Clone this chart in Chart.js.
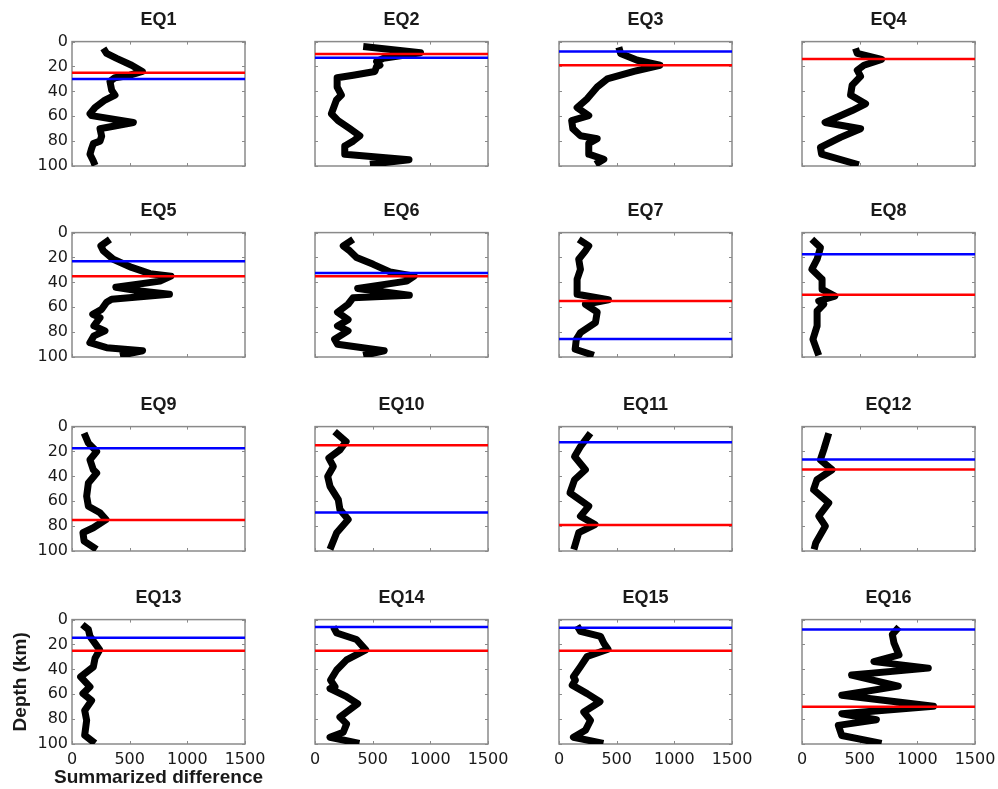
<!DOCTYPE html>
<html>
<head>
<meta charset="utf-8">
<script src="https://cdn.jsdelivr.net/npm/chart.js@4.4.0/dist/chart.umd.min.js"></script>
<style>
html, body { margin:0; padding:0; background:#fff; }
body { width:998px; height:789px; position:relative; overflow:hidden; }
canvas { position:absolute; }
</style>
</head>
<body>
<script>
// panel titles and the two marker depths (red / blue) per panel
const titles = ['EQ1','EQ2','EQ3','EQ4','EQ5','EQ6','EQ7','EQ8','EQ9','EQ10','EQ11','EQ12','EQ13','EQ14','EQ15','EQ16'];
const redDepth  = [25, 10, 19, 14, 35, 35, 55, 50, 75, 15, 79, 34.5, 25, 25, 25, 70];
const blueDepth = [30, 13, 8, null, 23, 32.5, 85.5, 17.5, 17.5, 69, 12.5, 26.5, 14.5, 6, 6.5, 8];

const xTicks = [0, 500, 1000, 1500];
const yTicks = [0, 20, 40, 60, 80, 100];
const xTitle = 'Summarized difference';
const yTitle = 'Depth (km)';

// depth (km) and summarized difference for each earthquake
const eq1Depth = [5.4, 9.5, 13.5, 19, 24, 27, 29, 32, 39, 43, 47, 53, 58, 59.5, 65, 69, 70, 76, 80, 82, 86, 90.5, 96, 99.5];
const eq1Diff  = [272, 300, 387, 517, 610, 503, 373, 329, 344, 373, 286, 200, 156, 170, 532, 300, 243, 257, 243, 185, 170, 156, 185, 200];
const eq2Depth = [4, 9, 13.5, 16, 19, 20, 24, 27, 29, 36.5, 43, 47, 58, 63.5, 70, 75.7, 80, 84, 90.5, 95, 98.6];
const eq2Diff  = [418, 915, 592, 534, 563, 534, 519, 331, 192, 192, 229, 186, 142, 200, 302, 389, 331, 258, 258, 815, 476];
const eq3Depth = [4.6, 9.5, 15, 19, 24, 30, 36.5, 46, 53, 59.5, 63.5, 70, 75.7, 78, 82, 90.5, 94.6, 98.6];
const eq3Diff  = [519, 534, 679, 875, 650, 418, 331, 244, 157, 258, 110, 120, 186, 331, 258, 258, 389, 316];
const eq4Depth = [5.4, 9.5, 14.3, 19, 23, 28, 35, 43, 50, 55.4, 65, 70, 77, 85, 90.5, 99];
const eq4Diff  = [464, 479, 690, 537, 479, 508, 435, 421, 551, 435, 200, 508, 334, 160, 170, 493];
const eq5Depth = [5.4, 10.7, 14.7, 21.4, 28, 33, 35, 39, 44, 47, 49.6, 53.6, 56, 61.7, 65.7, 68.4, 75, 79, 83, 88.5, 92.5, 95, 98.7];
const eq5Diff  = [329, 250, 272, 358, 517, 676, 858, 763, 380, 590, 845, 344, 300, 257, 180, 243, 190, 286, 190, 155, 300, 612, 416];
const eq6Depth = [5.4, 10.7, 14.7, 20, 25.5, 31.6, 35, 39, 45, 50.4, 52.3, 57.6, 64, 70, 75, 79, 85.8, 89.8, 95, 98.7];
const eq6Diff  = [331, 245, 302, 360, 505, 650, 860, 795, 370, 818, 331, 287, 195, 287, 195, 287, 170, 195, 600, 418];
const eq7Depth = [5.4, 10.7, 14.7, 21.4, 29.5, 37.5, 49.6, 54, 57.6, 64, 72.4, 80.4, 85.8, 93.8, 98.7];
const eq7Diff  = [171, 258, 229, 171, 186, 157, 157, 428, 229, 331, 316, 186, 150, 140, 302];
const eq8Depth = [5.4, 12, 21.4, 29.5, 37.5, 45.6, 51, 55, 57.6, 63, 75, 85.8, 98.7];
const eq8Diff  = [85, 160, 131, 85, 174, 174, 285, 145, 188, 131, 131, 95, 145];
const eq9Depth = [5.3, 13.3, 20, 26.7, 34.7, 37.3, 45.3, 56, 64, 69.3, 74.7, 81.3, 85.3, 92, 98.7];
const eq9Diff  = [105, 142, 214, 156, 185, 214, 142, 127, 142, 243, 295, 185, 95, 105, 214];
const eq10Depth = [4, 12, 18.7, 25.3, 32, 40, 48, 58.7, 66.7, 74.7, 85.3, 98.7];
const eq10Diff  = [170, 270, 216, 120, 159, 110, 130, 202, 216, 288, 188, 130];
const eq11Depth = [5.3, 16, 24, 34.7, 42.7, 53.3, 64, 72, 78.7, 85.3, 98.7];
const eq11Diff  = [273, 186, 135, 229, 135, 95, 258, 186, 312, 171, 128];
const eq12Depth = [5.3, 18.7, 26.7, 34.7, 42.7, 50.7, 61.3, 72, 80, 93.3, 98.7];
const eq12Diff  = [232, 188, 159, 261, 130, 100, 232, 145, 203, 120, 105];
const eq13Depth = [4, 8, 13.5, 24.3, 31, 38, 46, 54, 59.5, 65, 73, 81, 93, 99.5];
const eq13Diff  = [90, 142, 156, 240, 200, 185, 75, 156, 95, 170, 110, 127, 110, 200];
const eq14Depth = [5.9, 10.8, 16, 24.3, 32.4, 40.5, 48.6, 54, 55.4, 62, 67.6, 74.3, 78.4, 83.8, 90.5, 94.6, 99.5];
const eq14Diff  = [159, 188, 360, 440, 274, 188, 135, 173, 130, 274, 370, 274, 216, 274, 245, 130, 385];
const eq15Depth = [4.9, 9.5, 13.5, 19, 23.8, 29.7, 37.8, 46, 48.6, 52.7, 59.5, 66, 74.3, 81, 89, 94.6, 99.5];
const eq15Diff  = [157, 186, 360, 389, 425, 244, 186, 125, 142, 115, 244, 355, 215, 273, 229, 125, 385];
const eq16Depth = [5.9, 12, 19, 28.4, 33.8, 39, 44.6, 53.5, 60.8, 69.7, 75.7, 80.5, 85, 93.2, 99.5];
const eq16Diff  = [841, 783, 798, 841, 624, 1095, 430, 835, 345, 1140, 345, 645, 315, 345, 690];

const depths = [eq1Depth, eq2Depth, eq3Depth, eq4Depth, eq5Depth, eq6Depth, eq7Depth, eq8Depth,
                eq9Depth, eq10Depth, eq11Depth, eq12Depth, eq13Depth, eq14Depth, eq15Depth, eq16Depth];
const diffs = [eq1Diff, eq2Diff, eq3Diff, eq4Diff, eq5Diff, eq6Diff, eq7Diff, eq8Diff,
               eq9Diff, eq10Diff, eq11Diff, eq12Diff, eq13Diff, eq14Diff, eq15Diff, eq16Diff];

// where each plot box sits on the page
const colLeft = [72, 315, 559, 802];
const rowTop = [42, 233, 427, 620];
const boxW = 173, boxH = 124;
const titleH = 40.6; // 18 * 1.2 + 8 + 11

const TICKFONT = "'DejaVu Sans', Verdana, sans-serif";
const BOLDFONT = "'Liberation Sans', Arial, Helvetica, sans-serif";
const TEXT = '#1a1a1a';

// gray frame plus inward tick marks on all four sides
const frame = {
  id: 'frame',
  beforeDatasetsDraw(chart) {
    const {ctx, chartArea: a, scales: {x, y}} = chart;
    ctx.save();
    ctx.strokeStyle = '#8a8a8a';
    ctx.lineWidth = 1;
    ctx.beginPath();
    xTicks.forEach(v => {
      const px = Math.round(x.getPixelForValue(v)) + 0.5;
      ctx.moveTo(px, a.bottom); ctx.lineTo(px, a.bottom - 3);
      ctx.moveTo(px, a.top); ctx.lineTo(px, a.top + 3);
    });
    yTicks.forEach(v => {
      const py = Math.round(y.getPixelForValue(v)) + 0.5;
      ctx.moveTo(a.left, py); ctx.lineTo(a.left + 3, py);
      ctx.moveTo(a.right, py); ctx.lineTo(a.right - 3, py);
    });
    ctx.stroke();
    ctx.lineWidth = 1.5;
    ctx.strokeRect(a.left, a.top, a.width, a.height);
    ctx.restore();
  }
};

// x axis title of the bottom-left panel, wider than its plot so drawn without squeezing
const xLabel = {
  id: 'xLabel',
  afterDraw(chart, args, opts) {
    if (!opts.text) return;
    const {ctx, chartArea: a} = chart;
    ctx.save();
    ctx.font = "bold 19px " + BOLDFONT;
    ctx.fillStyle = TEXT;
    ctx.textAlign = 'center';
    ctx.textBaseline = 'middle';
    ctx.fillText(opts.text, (a.left + a.right) / 2, a.bottom + 34);
    ctx.restore();
  }
};

function hline(d, color) {
  return {
    data: d == null ? [] : [{x: 0, y: d}, {x: 1500, y: d}],
    showLine: true, borderColor: color, borderWidth: 2.5, pointRadius: 0
  };
}

titles.forEach((title, i) => {
  const row = Math.floor(i / 4), col = i % 4;
  const first = col === 0, bottom = row === 3;
  const yW = first ? 72 : 10;
  const padR = bottom ? 26 : 4;
  const xH = bottom ? (first ? 46 : 30) : 12;

  const cv = document.createElement('canvas');
  const w = yW + boxW + padR;
  const h = Math.round(titleH + boxH + xH);
  cv.width = w; cv.height = h;
  cv.style.width = w + 'px'; cv.style.height = h + 'px';
  cv.style.left = (colLeft[col] - yW) + 'px';
  cv.style.top = Math.round(rowTop[row] - titleH) + 'px';
  document.body.appendChild(cv);

  const profile = depths[i].map((d, k) => ({x: diffs[i][k], y: d}));

  new Chart(cv, {
    type: 'scatter',
    data: {
      datasets: [
        hline(blueDepth[i], '#0000ff'),
        hline(redDepth[i], '#ff0000'),
        {data: profile, showLine: true, borderColor: '#000', borderWidth: 7,
         borderJoinStyle: 'round', borderCapStyle: 'butt', pointRadius: 0}
      ]
    },
    options: {
      responsive: false, animation: false, devicePixelRatio: 1,
      layout: {padding: {left: 0, right: padR, top: 0, bottom: 0}},
      plugins: {
        legend: {display: false},
        tooltip: {enabled: false},
        title: {display: true, text: title, color: TEXT, fullSize: false,
                font: {family: BOLDFONT, size: 18, weight: 'bold'},
                padding: {top: 8, bottom: 11}},
        xLabel: {text: bottom && first ? xTitle : ''}
      },
      scales: {
        x: {
          type: 'linear', min: 0, max: 1500, position: 'bottom',
          grid: {display: false, drawTicks: false}, border: {display: false},
          afterBuildTicks: s => { s.ticks = xTicks.map(v => ({value: v})); },
          ticks: {display: bottom, padding: 6, color: TEXT, maxRotation: 0,
                  callback: v => String(v), font: {family: TICKFONT, size: 16}},
          afterFit: s => { s.height = xH; s.paddingLeft = 0; s.paddingRight = 0; }
        },
        y: {
          type: 'linear', min: 0, max: 100, reverse: true, position: 'left',
          grid: {display: false, drawTicks: false}, border: {display: false},
          afterBuildTicks: s => { s.ticks = yTicks.map(v => ({value: v})); },
          ticks: {display: first, padding: 4, color: TEXT,
                  callback: v => String(v), font: {family: TICKFONT, size: 16}},
          title: {display: bottom && first, text: yTitle, color: TEXT,
                  font: {family: BOLDFONT, size: 19, weight: 'bold'}, padding: {top: 9, bottom: 0}},
          afterFit: s => { s.width = yW; s.paddingTop = 0; s.paddingBottom = 0; }
        }
      }
    },
    plugins: [frame, xLabel]
  });
});
</script>
</body>
</html>
